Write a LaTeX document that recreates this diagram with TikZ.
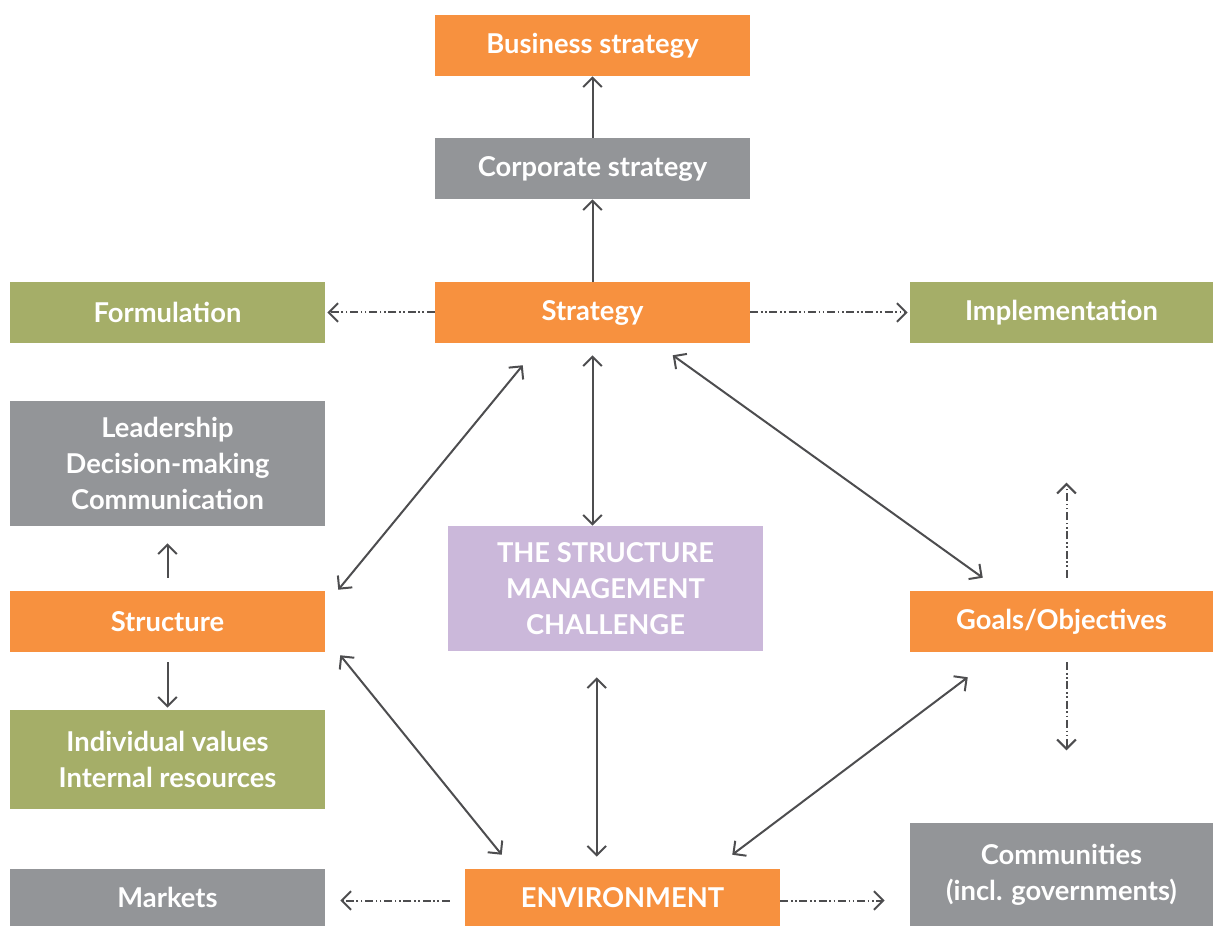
\documentclass[tikz,border=0pt]{standalone}
\usepackage{fontspec}
\setmainfont{Lato}
\usetikzlibrary{arrows.meta,calc}
\definecolor{cOrange}{HTML}{F7913F}
\definecolor{cGray}{HTML}{939598}
\definecolor{cGreen}{HTML}{A5AE68}
\definecolor{cPurple}{HTML}{CBB8DA}
\definecolor{cLine}{HTML}{4D4D4F}
\begin{document}
\begin{tikzpicture}[x=0.75pt,y=-0.75pt,
  box/.style={draw=none,inner sep=0pt,align=center,text=white,
    font=\fontsize{20.5}{27}\selectfont\bfseries,minimum width=236.25pt},
  h61/.style={minimum height=45.75pt},
  tip/.style={-{Straight Barb[length=7pt,width=14pt,line width=1.5pt]}},
  solidarr/.style={draw=cLine,line width=1.5pt,tip},
  biarr/.style={draw=cLine,line width=1.5pt,{Straight Barb[length=7pt,width=14pt,line width=1.5pt]}-{Straight Barb[length=7pt,width=14pt,line width=1.5pt]}},
  dasharr/.style={draw=cLine,line width=1.5pt,tip,
    dash pattern=on 6pt off 2pt on 1.2pt off 2pt on 1.2pt off 2pt}]
\useasboundingbox (0,0) rectangle (1214,927);
% boxes
\node[box,h61,fill=cOrange] (bus) at (592.5,45.5) {Business strategy};
\node[box,h61,fill=cGray] (corp) at (592.5,168.5) {Corporate strategy};
\node[box,h61,fill=cOrange] (strat) at (592.5,312.5) {Strategy};
\node[box,h61,fill=cGreen] (form) at (167.5,312.5) {Formulation};
\node[box,h61,fill=cGreen,minimum width=227.25pt] (impl) at (1061.5,312.5) {Implementation};
\node[box,fill=cGray,minimum height=93.75pt] (lead) at (167.5,463.5) {Leadership\\Decision-making\\Communication};
\node[box,h61,fill=cOrange] (struct) at (167.5,621.5) {Structure};
\node[box,fill=cGreen,minimum height=74.25pt] (indiv) at (167.5,759.5) {Individual values\\Internal resources};
\node[box,fill=cGray,minimum height=42.75pt] (mark) at (167.5,897.5) {Markets};
\node[box,fill=cPurple,minimum height=93.75pt] (chal) at (605.5,588.5) {THE STRUCTURE\\MANAGEMENT\\CHALLENGE};
\node[box,h61,fill=cOrange,minimum width=227.25pt] (goal) at (1061.5,621.5) {Goals/Objectives};
\node[box,fill=cOrange,minimum height=42.75pt] (env) at (622.5,897.5) {ENVIRONMENT};
\node[box,fill=cGray,minimum width=227.25pt,minimum height=77.25pt] (comm) at (1061.5,874.5) {Communities\\(incl. governments)};
% vertical chain
\draw[solidarr] (corp.north) -- (bus.south);
\draw[solidarr] (strat.north) -- (corp.south);
% strategy side arrows
\draw[dasharr] (strat.west) -- ([xshift=1.5pt]form.east);
\draw[dasharr] (strat.east) -- ([xshift=-1.5pt]impl.west);
% diagonals and verticals from strategy
\draw[biarr] ($(strat.south west)+(88,22)$) -- ($(struct.north east)+(13,-1)$);
\draw[biarr] ($(strat.south)+(0,12)$) -- (chal.north -| strat.south);
\draw[biarr] ($(strat.south west)+(238,12)$) -- ($(goal.north west)+(73,-13)$);
% structure up/down
\draw[solidarr] ($(struct.north)+(0,-13)$) -- ($(lead.south)+(0,17)$);
\draw[solidarr] ($(struct.south)+(0,10)$) -- ($(indiv.north)+(0,-2)$);
% to environment
\draw[biarr] ($(struct.south east)+(15,3)$) -- ($(env.north west)+(37,-14)$);
\draw[biarr] ($(chal.south west)+(149,26)$) -- ($(env.north west)+(132,-12)$);
\draw[biarr] ($(goal.south west)+(58,25)$) -- ($(env.north east)+(-48,-14)$);
% goals up/down dashed
\draw[dasharr] ($(goal.north)+(5,-13)$) -- ($(goal.north)+(5,-108)$);
\draw[dasharr] ($(goal.south)+(5,10)$) -- ($(goal.south)+(5,98)$);
% environment side arrows
\draw[dasharr] ($(env.west)+(-15,3)$) -- ($(mark.east)+(15,3)$);
\draw[dasharr] ($(env.east)+(0,3)$) -- ($(comm.west)+(-25,26)$);
\end{tikzpicture}
\end{document}
